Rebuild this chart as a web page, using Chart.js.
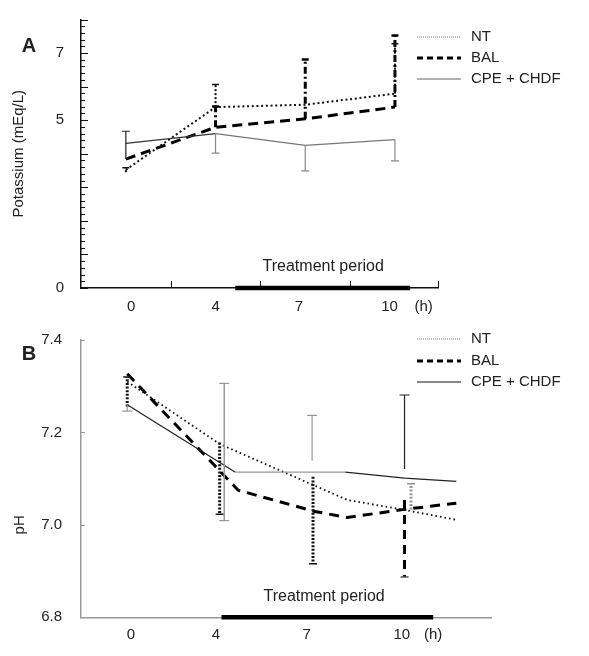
<!DOCTYPE html>
<html>
<head>
<meta charset="utf-8">
<script src="https://cdn.jsdelivr.net/npm/chart.js@4.4.0/dist/chart.umd.min.js"></script>
<style>
  body { margin: 0; background: #fff; }
  canvas { display: block; }
</style>
</head>
<body>
<canvas id="chartA" width="589" height="320"></canvas>
<canvas id="chartB" width="589" height="336"></canvas>
<script>
// x axis: sampling times, drawn at index positions 0..3
var xLabels = ['0', '4', '7', '10', '(h)'];

// --- panel A: potassium (mEq/L) ---
var kX = [0, 1, 2, 3];
var kNT = [3.52, 5.39, 5.46, 5.79];
var kBAL = [3.84, 4.79, 5.04, 5.39];
var kCPE = [4.31, 4.60, 4.25, 4.42];
// error bars: [x, from, to], cap at "to"
var kNTErr = [[0, 3.45, 3.58], [1, 5.39, 6.06], [3, 5.79, 7.28]];
var kBALErr = [[1, 4.79, 5.41], [2, 5.04, 6.81], [3, 5.39, 7.52]];
var kCPEErr = [[0, 3.84, 4.67], [1, 4.60, 4.02], [2, 4.25, 3.49], [3, 4.42, 3.79]];
var kYTicks = [0, 5, 7];
var kTreat = [1.22, 3.17];

// --- panel B: pH ---
var pNTX = [0, 1.0, 2.38, 2.98, 3.56];
var pNT = [7.31, 7.175, 7.054, 7.033, 7.011];
var pBALX = [0, 1.2, 2.03, 2.38, 2.98, 3.56];
var pBAL = [7.327, 7.075, 7.029, 7.016, 7.033, 7.047];
var pCPEX = [0, 1.17, 2.36, 3.0, 3.56];
var pCPE = [7.26, 7.114, 7.114, 7.101, 7.094];
var pNTErr = [[0, 7.256, 7.32], [1.0, 7.178, 7.023], [2.01, 7.104, 6.916], [3.07, 7.033, 7.089]];
var pBALErr = [[3.0, 7.054, 6.887]];
var pCPEErr = [[0, 7.26, 7.246], [1.05, 7.009, 7.306], [2.0, 7.139, 7.237], [3.0, 7.121, 7.281]];
var pYTicks = [6.8, 7.0, 7.2, 7.4];
var pTreat = [1.02, 3.31];

// where the x labels sit (axis units)
var kLabelPos = [0.06, 1.0, 1.93, 2.94, 3.32];
var pLabelPos = [0.04, 0.96, 1.94, 2.97, 3.31];

Chart.defaults.font.family = '"Liberation Sans", Arial, sans-serif';
Chart.defaults.font.size = 15;
Chart.defaults.color = '#222';

function lineSet(xs, ys, style) {
  return Object.assign({
    data: xs.map(function(x, i){ return {x: x, y: ys[i]}; }),
    pointRadius: 0, fill: false, tension: 0, borderCapStyle: 'butt'
  }, style);
}

function errSets(bars, style, cap, colors) {
  return bars.map(function(b, i){
    var col = colors ? colors[i % colors.length] : style.borderColor;
    return Object.assign({
      data: [{x: b[0], y: b[1]}, {x: b[0], y: b[2]}],
      pointRadius: [0, cap.r],
      pointStyle: 'line',
      pointBorderWidth: cap.w,
      pointBorderColor: cap.color || col,
      fill: false, tension: 0, borderCapStyle: 'butt'
    }, style, {borderColor: col});
  });
}

function treatSet(range, y) {
  return {
    data: [{x: range[0], y: y}, {x: range[1], y: y}],
    borderColor: '#000', borderWidth: 4.5, pointRadius: 0, clip: false, borderCapStyle: 'butt'
  };
}

var decor = {
  id: 'decor',
  afterDatasetsDraw: function(chart, args, o) {
    var ctx = chart.ctx, xs = chart.scales.x, ys = chart.scales.y;
    var area = chart.chartArea;
    ctx.save();
    // inward tick marks
    ctx.strokeStyle = o.tickColor;
    ctx.lineWidth = 1;
    ctx.setLineDash([]);
    o.yTicks.forEach(function(t){
      var py = Math.round(ys.getPixelForValue(t.v)) + 0.5;
      ctx.beginPath();
      ctx.moveTo(area.left, py);
      ctx.lineTo(area.left + t.len, py);
      ctx.stroke();
    });
    (o.xTicks || []).forEach(function(v){
      var px = Math.round(xs.getPixelForValue(v)) + 0.5;
      ctx.beginPath();
      ctx.moveTo(px, area.bottom);
      ctx.lineTo(px, area.bottom - 7);
      ctx.stroke();
    });
    // treatment period caption
    ctx.fillStyle = '#222';
    ctx.font = '16px "Liberation Sans", Arial, sans-serif';
    ctx.textAlign = 'center';
    ctx.textBaseline = 'middle';
    ctx.fillText('Treatment period', xs.getPixelForValue(o.caption.x), ys.getPixelForValue(o.caption.y));
    // panel letter
    ctx.font = 'bold 20px "Liberation Sans", Arial, sans-serif';
    ctx.textBaseline = 'alphabetic';
    ctx.fillText(o.letter.text, o.letter.x, o.letter.y);
    // side title drawn by hand (pH sits low on its axis)
    if (o.sideTitle) {
      ctx.save();
      ctx.font = '15px "Liberation Sans", Arial, sans-serif';
      ctx.textBaseline = 'middle';
      ctx.translate(o.sideTitle.x, ys.getPixelForValue(o.sideTitle.v));
      ctx.rotate(-Math.PI / 2);
      ctx.fillText(o.sideTitle.text, 0, 0);
      ctx.restore();
    }
    // legend
    ctx.font = '15px "Liberation Sans", Arial, sans-serif';
    ctx.textAlign = 'left';
    ctx.textBaseline = 'middle';
    o.legend.items.forEach(function(it, i){
      var y = o.legend.y[i];
      ctx.strokeStyle = it.color;
      ctx.lineWidth = it.width;
      ctx.setLineDash(it.dash || []);
      ctx.beginPath();
      ctx.moveTo(o.legend.x, y);
      ctx.lineTo(o.legend.x + o.legend.len, y);
      ctx.stroke();
      ctx.fillStyle = '#222';
      ctx.fillText(it.label, o.legend.x + o.legend.len + 10, y);
    });
    ctx.restore();
  }
};

function axisX(min, max, pos, pad, borderColor) {
  return {
    type: 'linear', min: min, max: max,
    grid: {display: false},
    border: {display: true, color: borderColor, width: 1.5},
    afterBuildTicks: function(s){ s.ticks = pos.map(function(v){ return {value: v}; }); },
    ticks: {padding: pad, maxRotation: 0, autoSkip: false,
      callback: function(v, i){ return xLabels[i]; }}
  };
}

// ---------- chart A ----------
var kMinor = [];
for (var i = 0; i <= 40; i++) kMinor.push({v: i * 0.2, len: i % 5 === 0 ? 7 : 4});

new Chart(document.getElementById('chartA'), {
  type: 'line',
  data: {
    datasets: [].concat(
      errSets(kCPEErr, {borderWidth: 1.2}, {r: 4, w: 1.2}, ['#222', '#888', '#888', '#888']),
      errSets(kNTErr, {borderColor: '#111', borderWidth: 2, borderDash: [2, 2]}, {r: 3.5, w: 1.5}),
      errSets(kBALErr, {borderColor: '#000', borderWidth: 3, borderDash: [7, 3, 2, 3]}, {r: 3.5, w: 2.5}),
      [
        lineSet(kX, kCPE, {borderColor: '#777', borderWidth: 1.2,
          segment: {borderColor: function(c){ return c.p0DataIndex === 0 ? '#333' : '#777'; }}}),
        lineSet(kX, kNT, {borderColor: '#111', borderWidth: 2, borderDash: [2, 2.7]}),
        lineSet(kX, kBAL, {borderColor: '#000', borderWidth: 3, borderDash: [10, 6]}),
        treatSet(kTreat, 0)
      ]
    )
  },
  options: {
    responsive: false, animation: false, events: [],
    layout: {padding: {top: 19.5, right: 151, left: 0, bottom: 0}},
    plugins: {
      legend: {display: false}, tooltip: {enabled: false},
      decor: {
        tickColor: '#111',
        yTicks: kMinor,
        xTicks: [0.5, 1.5, 2.5, 3.48],
        caption: {x: 2.2, y: 0.64},
        letter: {text: 'A', x: 29, y: 52},
        legend: {x: 417, y: [37, 58, 79], len: 44, items: [
          {label: 'NT', color: '#888', width: 1.2, dash: [1, 1]},
          {label: 'BAL', color: '#000', width: 3, dash: [6, 4]},
          {label: 'CPE + CHDF', color: '#999', width: 1.5}
        ]}
      }
    },
    scales: {
      x: Object.assign(axisX(-0.5, 3.48, kLabelPos, 2, '#111'), {
        afterFit: function(s){ s.height = 32; }
      }),
      y: {
        type: 'linear', min: 0, max: 8,
        grid: {display: false},
        border: {display: true, color: '#111', width: 1.5},
        afterBuildTicks: function(s){ s.ticks = kYTicks.map(function(v){ return {value: v}; }); },
        ticks: {padding: 9, callback: function(v){ return String(v); }},
        title: {display: true, text: 'Potassium (mEq/L)', padding: {top: 10, bottom: 0}},
        afterFit: function(s){ s.width = 81; }
      }
    }
  },
  plugins: [decor]
});

// ---------- chart B ----------
new Chart(document.getElementById('chartB'), {
  type: 'line',
  data: {
    datasets: [].concat(
      errSets(pCPEErr, {borderWidth: 1.2}, {r: 5, w: 1.2}, ['#999', '#999', '#999', '#222']),
      errSets([pCPEErr[1]].map(function(b){ return [b[0], b[2], b[1]]; }), {borderWidth: 1.2, borderColor: '#999'}, {r: 5, w: 1.2}),
      errSets(pNTErr, {borderWidth: 3, borderDash: [2, 1.6]}, {r: 4, w: 1.5}, ['#111', '#111', '#111', '#999']),
      errSets(pBALErr, {borderColor: '#000', borderWidth: 3, borderDash: [9, 6]}, {r: 4, w: 1.5, color: '#555'}),
      [
        lineSet(pCPEX, pCPE, {borderColor: '#222', borderWidth: 1.2,
          segment: {borderColor: function(c){ return c.p0DataIndex === 1 ? '#999' : '#222'; }}}),
        lineSet(pNTX, pNT, {borderColor: '#111', borderWidth: 1.8, borderDash: [1.6, 3]}),
        lineSet(pBALX, pBAL, {borderColor: '#000', borderWidth: 3, borderDash: [10, 7]}),
        treatSet(pTreat, 6.8)
      ]
    )
  },
  options: {
    responsive: false, animation: false, events: [],
    layout: {padding: {top: 15.7, right: 97.3, left: 0, bottom: 0}},
    plugins: {
      legend: {display: false}, tooltip: {enabled: false},
      decor: {
        tickColor: '#999',
        yTicks: [{v: 7.4, len: 4}, {v: 7.2, len: 4}, {v: 7.0, len: 4}],
        caption: {x: 2.13, y: 6.844},
        letter: {text: 'B', x: 29, y: 40},
        sideTitle: {text: 'pH', x: 20, v: 7.0},
        legend: {x: 417, y: [19, 41, 62], len: 44, items: [
          {label: 'NT', color: '#888', width: 1.2, dash: [1, 1]},
          {label: 'BAL', color: '#000', width: 3, dash: [6, 4]},
          {label: 'CPE + CHDF', color: '#111', width: 1.2}
        ]}
      }
    },
    scales: {
      x: Object.assign(axisX(-0.5, 3.943, pLabelPos, 1, '#999'), {
        afterFit: function(s){ s.height = 38.7; }
      }),
      y: {
        type: 'linear', min: 6.8, max: 7.4,
        grid: {display: false},
        border: {display: true, color: '#999', width: 1.5},
        afterBuildTicks: function(s){ s.ticks = pYTicks.map(function(v){ return {value: v}; }); },
        ticks: {padding: 11, callback: function(v){ return v.toFixed(1); }},
        afterFit: function(s){ s.width = 81; }
      }
    }
  },
  plugins: [decor]
});
</script>
</body>
</html>
